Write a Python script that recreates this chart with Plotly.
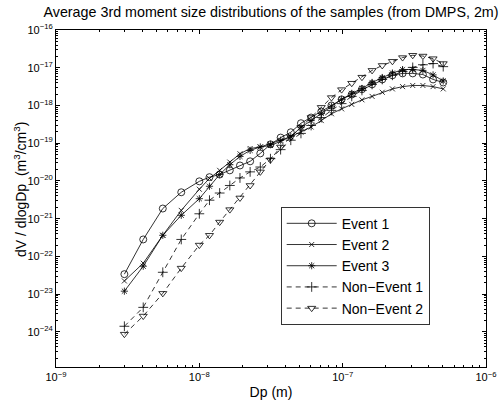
import plotly.graph_objects as go

# Particle diameter (m)
dp = [3.0e-9, 4.06e-9, 5.56e-9, 7.48e-9, 1.0e-8, 1.177e-8, 1.386e-8, 1.632e-8, 1.921e-8,
      2.262e-8, 2.663e-8, 3.135e-8, 3.691e-8, 4.346e-8, 5.117e-8, 6.024e-8, 7.092e-8,
      8.35e-8, 9.831e-8, 1.157e-7, 1.363e-7, 1.604e-7, 1.889e-7, 2.224e-7, 2.618e-7,
      3.082e-7, 3.629e-7, 4.273e-7, 5.03e-7]

event1 = [3.39e-23, 2.82e-22, 1.86e-21, 5.01e-21, 9.77e-21, 1.26e-20, 1.48e-20, 1.91e-20,
          2.57e-20, 3.31e-20, 5.37e-20, 9.33e-20, 1.41e-19, 1.95e-19, 3.39e-19, 4.79e-19,
          6.92e-19, 1.0e-18, 1.45e-18, 1.95e-18, 2.69e-18, 3.63e-18, 4.90e-18, 6.31e-18,
          7.08e-18, 7.08e-18, 6.61e-18, 4.90e-18, 4.07e-18]
event2 = [2.24e-23, 6.61e-23, 3.63e-22, 1.66e-21, 6.03e-21, 1.17e-20, 1.91e-20, 3.16e-20,
          5.25e-20, 7.24e-20, 7.94e-20, 8.71e-20, 1.12e-19, 1.48e-19, 1.95e-19, 2.69e-19,
          3.98e-19, 6.03e-19, 8.13e-19, 1.07e-18, 1.41e-18, 1.74e-18, 2.24e-18, 2.75e-18,
          3.16e-18, 3.39e-18, 3.39e-18, 3.16e-18, 2.75e-18]
event3 = [1.20e-23, 5.50e-23, 3.63e-22, 1.23e-21, 3.39e-21, 7.24e-21, 1.48e-20, 2.69e-20,
          4.47e-20, 6.46e-20, 7.94e-20, 9.33e-20, 1.20e-19, 1.51e-19, 2.63e-19, 3.98e-19,
          6.17e-19, 9.55e-19, 1.45e-18, 2.09e-18, 2.82e-18, 4.07e-18, 5.50e-18, 7.24e-18,
          8.91e-18, 9.0e-18, 8.51e-18, 6.46e-18, 4.47e-18]
nonevent1 = [1.41e-24, 4.47e-24, 3.80e-23, 2.82e-22, 1.35e-21, 3.09e-21, 4.79e-21, 7.59e-21,
             1.20e-20, 1.74e-20, 2.34e-20, 3.89e-20, 6.76e-20, 1.20e-19, 1.82e-19, 2.95e-19,
             4.79e-19, 7.41e-19, 1.12e-18, 1.74e-18, 2.51e-18, 3.63e-18, 4.90e-18, 6.31e-18,
             7.94e-18, 1.02e-17, 1.20e-17, 1.29e-17, 1.07e-17]
nonevent2 = [8.71e-25, 2.63e-24, 1.05e-23, 4.90e-23, 2.00e-22, 3.63e-22, 8.13e-22, 1.74e-21,
             3.55e-21, 7.59e-21, 1.74e-20, 3.63e-20, 7.94e-20, 1.45e-19, 2.63e-19, 4.79e-19,
             8.91e-19, 1.62e-18, 2.63e-18, 3.89e-18, 5.62e-18, 8.51e-18, 1.15e-17, 1.48e-17,
             1.86e-17, 2.14e-17, 2.04e-17, 1.74e-17, 1.29e-17]

names = ["Event 1", "Event 2", "Event 3", "Non\u2212Event 1", "Non\u2212Event 2"]
x_ticks = [1e-9, 1e-8, 1e-7, 1e-6]
x_ticktext = ["10<sup>\u22129</sup>", "10<sup>\u22128</sup>", "10<sup>\u22127</sup>", "10<sup>\u22126</sup>"]
y_ticks = [1e-24, 1e-23, 1e-22, 1e-21, 1e-20, 1e-19, 1e-18, 1e-17, 1e-16]
y_ticktext = ["10<sup>\u221224</sup>", "10<sup>\u221223</sup>", "10<sup>\u221222</sup>",
              "10<sup>\u221221</sup>", "10<sup>\u221220</sup>", "10<sup>\u221219</sup>",
              "10<sup>\u221218</sup>", "10<sup>\u221217</sup>", "10<sup>\u221216</sup>"]

series = [event1, event2, event3, nonevent1, nonevent2]
symbols = ["circle-open", "x-thin-open", "asterisk-open", "cross-thin-open", "triangle-down-open"]
sizes = [7, 5, 6, 7, 7]
dashes = ["solid", "solid", "solid", "5px,4px", "5px,4px"]

fig = go.Figure()
for ys, nm, sym, sz, ds in zip(series, names, symbols, sizes, dashes):
    fig.add_trace(go.Scatter(
        x=dp, y=ys, name=nm, mode="lines+markers",
        line=dict(color="black", width=0.8, dash=ds),
        marker=dict(symbol=sym, size=sz, color="black",
                    line=dict(color="black", width=0.8)),
    ))

font_family = "Liberation Sans, Arial, Helvetica, sans-serif"

minor_x = []
for d in [1e-9, 1e-8, 1e-7]:
    for k in range(2, 10):
        minor_x.append(k * d)
minor_y = []
for e in range(-25, -16):
    for k in range(2, 10):
        minor_y.append(k * 10.0 ** e)

fig.update_layout(
    width=502, height=403,
    margin=dict(l=56, r=16, t=30, b=36),
    paper_bgcolor="white", plot_bgcolor="white",
    font=dict(family=font_family, color="black", size=14),
    title=dict(text="Average 3rd moment size distributions of the samples (from DMPS, 2m)",
               x=271 / 502, xanchor="center", y=1 - 12 / 403, yanchor="middle",
               font=dict(size=14.3)),
    showlegend=True,
    legend=dict(x=0.523, y=0.475, xanchor="left", yanchor="top",
                bordercolor="black", borderwidth=0.8, bgcolor="white",
                font=dict(size=14), tracegroupgap=0, itemwidth=50),
    annotations=[dict(text="dV / dlogDp  (m<sup>3</sup>/cm<sup>3</sup>)",
                      textangle=-90, xref="paper", yref="paper",
                      x=(20 - 56) / 430, y=(367 - 190) / 337,
                      xanchor="center", yanchor="middle", showarrow=False,
                      font=dict(size=14))],
)
fig.update_xaxes(
    type="log", range=[-9, -6], automargin=False,
    tickmode="array", tickvals=x_ticks, ticktext=x_ticktext,
    ticks="inside", ticklen=4, tickwidth=1, tickcolor="black",
    showline=True, linecolor="black", linewidth=1, mirror="allticks",
    showgrid=False, zeroline=False,
    tickfont=dict(size=11),
    title=dict(text="Dp (m)", font=dict(size=14), standoff=4),
    minor=dict(tickmode="array", tickvals=minor_x, ticks="inside", ticklen=2,
               tickcolor="black", showgrid=False),
)
fig.update_yaxes(
    type="log", range=[-24.93, -16], automargin=False,
    tickmode="array", tickvals=y_ticks, ticktext=y_ticktext,
    ticks="inside", ticklen=4, tickwidth=1, tickcolor="black",
    showline=True, linecolor="black", linewidth=1, mirror="allticks",
    showgrid=False, zeroline=False,
    tickfont=dict(size=11),
    minor=dict(tickmode="array", tickvals=minor_y, ticks="inside", ticklen=2,
               tickcolor="black", showgrid=False),
)

fig.write_html("out.html")
